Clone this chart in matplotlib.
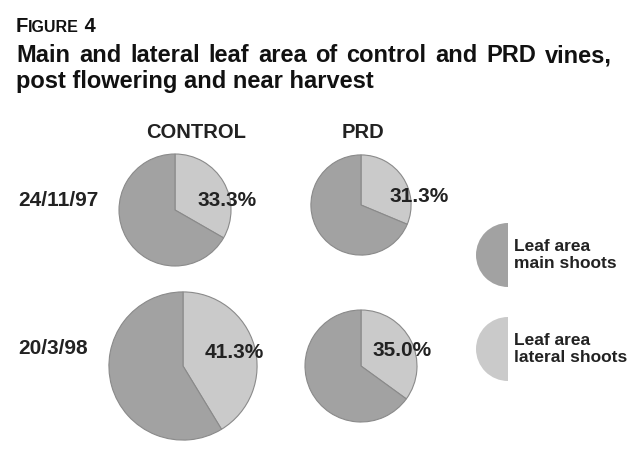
import matplotlib
matplotlib.use("Agg")
import matplotlib.pyplot as plt
from matplotlib.patches import Wedge
import numpy as np

# ---- data ----
dates = ["24/11/97", "20/3/98"]
treatments = ["CONTROL", "PRD"]
lateral_pct = [[33.3, 31.3], [41.3, 35.0]]          # % leaf area on lateral shoots
total_area_rel = [[1.00, 0.80], [1.75, 1.00]]       # relative total leaf area (pie area)
legend_labels = ["Leaf area\nmain shoots", "Leaf area\nlateral shoots"]
title_small = "Figure 4"
title_lines = ["Main and lateral leaf area of control and PRD vines,",
               "post flowering and near harvest"]

# ---- style ----
C_MAIN = "#a2a2a2"
C_LAT = "#cacaca"
C_EDGE = "#8a8a8a"
W, H = 632, 463

plt.rcParams['font.family'] = ['Liberation Sans', 'DejaVu Sans']
fig = plt.figure(figsize=(W / 100, H / 100), dpi=100)
ax = fig.add_axes([0, 0, 1, 1])

def py(y):
    return H - y

centers = [[(175, 210), (361, 205)], [(183, 366), (361, 366)]]
base_r = 56
label_pos = [[(227, 200), (419, 197)], [(234, 352), (402, 350)]]

for i in range(2):
    for j in range(2):
        lat = lateral_pct[i][j]
        r = base_r * np.sqrt(total_area_rel[i][j])
        cx, cy = centers[i][j]
        ax.pie([lat, 100 - lat], colors=[C_LAT, C_MAIN], startangle=90,
               counterclock=False, center=(cx, py(cy)), radius=r, frame=True,
               wedgeprops=dict(edgecolor=C_EDGE, linewidth=0.8))
        lx, ly = label_pos[i][j]
        ax.text(lx, py(ly), f"{lat:.1f}%", ha="center", va="center",
                fontsize=15, fontweight="bold", color="#222222")

# column headings
head_x = [196, 363]
for j, t in enumerate(treatments):
    ax.text(head_x[j], py(132), t, ha="center", va="center", fontsize=14.5,
            fontweight="bold", color="#222222")

# row labels
for i, d in enumerate(dates):
    ax.text(18, py([200, 348][i]), d, ha="left", va="center", fontsize=15,
            fontweight="bold", color="#222222")

# legend (half discs)
leg_y = [255, 349]
leg_cols = [C_MAIN, C_LAT]
for k in range(2):
    ax.add_patch(Wedge((508, py(leg_y[k])), 32, 90, 270, facecolor=leg_cols[k],
                       edgecolor="none"))
    ax.text(514, py(leg_y[k]), legend_labels[k], ha="left", va="center",
            fontsize=12.5, fontweight="bold", color="#222222", linespacing=1.2)

ax.set_xlim(0, W)
ax.set_ylim(0, H)
ax.set_aspect("equal")
ax.axis("off")

# ---- title ----
fig.canvas.draw()
renderer = fig.canvas.get_renderer()
tfam = ['Liberation Sans']

def width_px(t):
    return t.get_window_extent(renderer).width

# small caps "FIGURE 4"
x = 16
pieces = [("F", 14.5), ("IGURE", 11.5), (" 4", 14.5)]
for txt, fs in pieces:
    t = ax.text(x, py(32), txt, ha="left", va="baseline", fontsize=fs,
                fontweight="bold", family=tfam, color="#111111")
    x += width_px(t)

# justified first line
fs_title = 17
words = title_lines[0].split()
texts = [ax.text(0, py(62), w, ha="left", va="baseline", fontsize=fs_title,
                 fontweight="bold", family=tfam, color="#111111") for w in words]
widths = [width_px(t) for t in texts]
x0, x1 = 16, 612
gap = (x1 - x0 - sum(widths)) / (len(words) - 1)
x = x0
for t, w in zip(texts, widths):
    t.set_x(x)
    x += w + gap
ax.text(16, py(88), title_lines[1], ha="left", va="baseline", fontsize=fs_title,
        fontweight="bold", family=tfam, color="#111111")

fig.savefig("out.png", dpi=100)
